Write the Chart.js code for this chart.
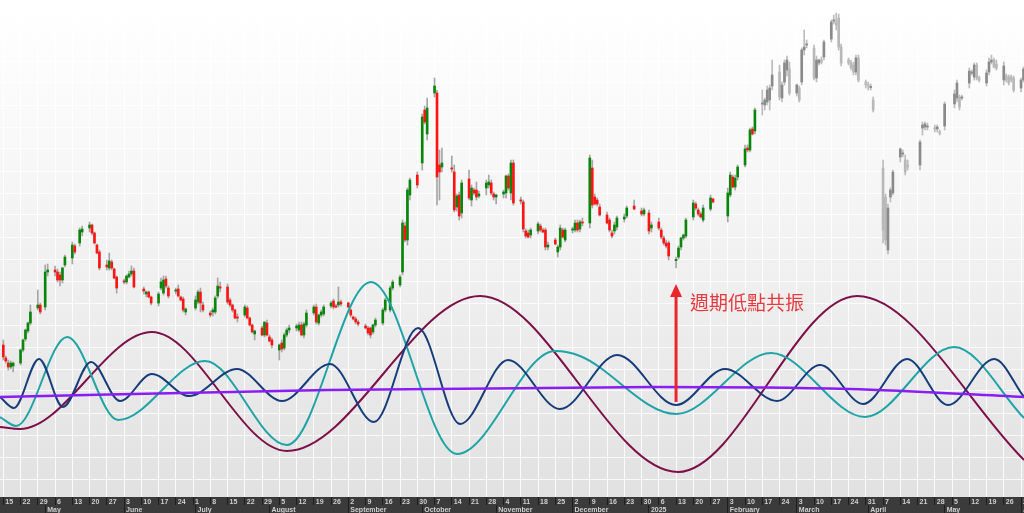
<!DOCTYPE html>
<html>
<head>
<meta charset="utf-8">
<script src="https://cdn.jsdelivr.net/npm/chart.js@4.4.1/dist/chart.umd.min.js"></script>
<style>
  html, body { margin: 0; padding: 0; background: #fff; overflow: hidden; }
</style>
</head>
<body>
<canvas id="myChart" width="1024" height="513"></canvas>
<script>
// trading calendar (HK market)
const startDate = '2024-04-15';
const endDate = '2025-06-03';
const holidays = ['2024-05-01','2024-05-15','2024-06-10','2024-07-01','2024-09-18','2024-10-01',
  '2024-10-11','2024-12-25','2024-12-26','2025-01-01','2025-01-29','2025-01-30','2025-01-31',
  '2025-04-04','2025-04-18','2025-04-21','2025-05-01','2025-05-05'];
const viewDays = [-1.34, 414.2];
const greyFrom = '2025-02-17';
const monthNames = ['January','February','March','April','May','June','July','August',
  'September','October','November','December'];

// daily candles [open, high, low, close], one row per week
const ohlc = [
  [155,160,140,143],[142,144,137,139],[137,140,130,133],[133,139,131,137],[134,138,128,137],
  [137,151,135,150],[150,161,148,160],[161,171,159,170],[169,178,167,177],[177,195,175,188],
  [192,210,190,195],[195,197,186,188],[193,235,190,228],[228,236,224,230],
  [230,234,224,228],[228,231,218,220],[225,228,214,220],[220,233,217,232],[235,245,233,243],
  [242,258,236,255],[254,256,246,248],[257,272,254,270],[268,274,264,271],
  [272,278,268,275],[275,276,265,267],[267,268,256,257],[255,256,246,247],[248,250,230,232],
  [235,240,230,233],[232,247,230,239],[238,240,230,232],[231,232,221,222],[223,224,207,212],
  [219,221,216,218],[218,225,216,224],[223,229,222,226],[226,234,224,229],[229,232,212,213],
  [211,213,206,209],[206,209,203,208],[208,209,202,203],[203,204,195,197],
  [197,208,194,206],[212,222,210,218],[207,224,205,220],[221,224,212,214],[212,214,202,204],
  [209,212,206,210],[211,215,203,204],[203,204,199,200],[201,203,188,190],[188,192,185,191],
  [192,204,190,200],[198,210,196,208],[208,212,188,197],[195,198,188,190],
  [187,189,183,185],[188,192,184,190],[188,204,186,202],[204,222,202,214],[213,218,208,212],
  [213,216,196,198],[200,202,193,195],[195,196,188,190],[190,191,181,182],[183,186,178,182],
  [185,195,183,193],[192,194,181,182],[182,183,174,175],[175,176,167,168],[166,170,160,169],
  [172,174,164,165],[165,178,163,178],[177,180,164,165],[163,165,158,159],[160,162,152,155],
  [150,156,140,155],[157,160,148,151],[152,167,150,165],[165,172,163,170],[170,175,167,172],
  [172,176,169,174],[170,178,168,175],[175,178,164,165],[165,178,162,176],[175,190,173,187],
  [187,195,185,193],[193,196,176,178],[177,186,175,185],[185,190,183,188],[186,195,184,193],
  [194,199,192,197],[199,201,191,193],[194,196,192,193],[195,213,193,198],[198,200,194,196],
  [197,198,192,193],[190,191,183,185],[183,184,180,181],[181,183,176,178],[178,180,174,176],
  [174,176,171,172],[172,174,165,167],[172,173,162,165],[168,176,166,175],[175,182,173,180],
  [177,192,175,190],[190,202,188,200],[190,214,188,212],[212,220,210,218],
  [215,225,213,223],[228,280,225,277],[274,278,258,260],[260,312,255,310],[305,322,300,320],
  [325,328,312,315],[337,386,330,383],[390,394,376,378],[366,402,360,392],
  [407,422,403,414],[407,410,295,323],[335,350,300,328],[333,352,328,337],
  [332,344,328,331],[328,335,288,290],[293,306,289,304],[305,308,280,284],[287,320,282,317],
  [321,330,300,302],[300,315,294,312],[310,312,305,307],[310,318,300,303],[304,309,302,306],
  [312,320,305,317],[315,325,312,318],[317,320,305,307],[306,308,300,303],[303,306,296,305],
  [306,310,302,308],[307,325,302,324],[324,326,310,312],[307,340,300,337],[337,340,295,297],
  [300,303,296,299],[298,300,268,271],[269,271,262,264],[267,270,262,263],[265,272,262,270],
  [269,278,266,276],[274,276,268,270],[270,272,267,268],[270,272,250,253],[253,258,250,255],
  [260,262,255,256],[248,255,243,253],[253,275,250,272],[270,272,262,263],[260,272,258,270],
  [270,273,267,271],[270,280,268,277],[277,280,268,270],[271,280,268,278],[278,282,274,277],
  [277,345,272,342],[332,340,292,295],[303,306,295,296],[300,302,294,296],[293,296,284,285],
  [285,288,276,277],[280,282,268,270],[267,270,262,264],[269,278,266,275],[273,284,270,282],
  [281,286,278,283],[284,294,282,292],[294,300,290,291],
  [289,292,284,286],[286,292,284,290],[287,290,266,269],[272,278,268,275],
  [278,282,270,272],[270,272,261,263],[262,264,255,257],[257,260,252,254],[257,259,240,244],
  [240,243,232,240],[243,254,241,252],[253,263,250,262],[262,266,260,265],[264,282,262,280],
  [283,300,280,297],[296,298,290,292],[290,292,284,286],[286,288,282,283],[280,295,278,292],
  [291,305,289,302],[301,302,297,298],
  [284,312,278,307],[305,328,303,325],[323,325,312,313],[313,325,310,322],[323,335,320,333],
  [335,355,333,351],[352,355,348,350],[350,372,348,370],[371,373,365,366],[369,392,366,390],
  [396,410,385,397],[395,402,390,400],[398,414,395,410],[400,415,390,412],[414,440,410,425],
  [428,435,400,403],[402,418,398,415],[418,440,415,437],[430,444,424,440],[431,438,405,407],
  [407,416,404,415],[412,414,398,400],[418,452,415,450],[450,470,445,453],[455,460,452,456],
  [452,455,420,422],[422,444,418,440],[437,441,435,440],[440,443,436,438],[443,460,440,458],
  [461,480,458,478],[479,485,476,480],[478,487,470,475],[482,486,450,453],[453,456,434,437],
  [440,442,435,437],[437,440,430,432],[435,438,425,428],[428,445,425,442],[442,445,418,420],
  [418,420,412,415],[415,418,410,414],[413,416,410,413],[400,403,388,390],
  [332,340,257,270],[303,306,255,260],[250,296,246,292],[303,312,298,310],[307,330,305,328],
  [343,352,338,351],[346,350,343,347],[340,345,325,328],[335,340,330,333],
  [335,360,330,358],[372,378,365,375],[373,378,370,376],[373,377,370,374],
  [372,375,368,371],[371,375,368,373],[368,370,365,367],[374,398,370,396],
  [396,410,392,406],[402,420,398,417],[403,405,390,393],[402,405,400,403],
  [417,432,412,429],[427,430,425,428],[423,437,420,435],[435,437,420,422],[422,424,418,420],
  [417,430,414,427],[428,442,425,438],[438,445,436,440],[440,442,432,433],[436,440,430,432],
  [420,438,415,434],[424,426,418,420],[423,425,415,417],[423,425,418,420],[422,424,408,410],
  [412,422,408,420],[420,433,418,431]
];

// cycle curves: turning points (days from start, level)
const longCycleDay = [-1.34, 6.8, 60.3, 115.1, 193.5, 273.8, 346.5, 414.2];
const longCycleLevel = [73, 71, 168, 49, 204, 28, 204, 40];
const midCycleDay = [-1.34, 5.2, 25.9, 46.6, 81.9, 115.1, 149.2, 184.1, 223.9, 234, 273, 311.6, 349.7, 385.8, 414.2];
const midCycleLevel = [83, 74, 163, 80, 139, 55, 218, 46, 149, 144, 86, 147, 83, 153, 82];
const shortCycleDay = [-1.34, 4.3, 14.5, 24.2, 35.6, 47.4, 60.3, 75.4, 94.8, 113.1, 132.6, 150.4, 168.3,
  185.4, 204.8, 225.9, 249.1, 273, 292.9, 314, 331.5, 348.9, 366.8, 383.4, 402.1, 414.2];
const shortCycleLevel = [103, 92, 141, 93, 138, 99, 126, 104, 131, 99, 136, 78, 172,
  76, 140, 91, 145, 95, 131, 99, 135, 96, 141, 95, 141, 103];
const trendDay = [-1.34, 131.4, 263.7, 343.2, 414.2];
const trendLevel = [103, 110, 113, 111, 103];

// annotation
const noteDate = '2025-01-13';
const noteFrom = 98, noteTo = 216, noteTextLevel = 197;
const noteText = '週期低點共振';

const DAY = 86400000;
const t0 = Date.parse(startDate);
const dayOf = s => (Date.parse(s) - t0) / DAY;

const tradingDays = [];
for (let t = t0; t <= Date.parse(endDate); t += DAY) {
  const d = new Date(t);
  const iso = d.toISOString().slice(0, 10);
  const wd = d.getUTCDay();
  if (wd === 0 || wd === 6 || holidays.includes(iso)) continue;
  tradingDays.push(iso);
}

// weekly ticks (Mondays) and month ticks (first trading day)
const weekDays = [], weekLabels = [];
for (let d = 0; d <= viewDays[1]; d += 7) {
  weekDays.push(d);
  weekLabels.push(String(new Date(t0 + d * DAY).getUTCDate()));
}
const monthDays = [], monthLabels = [];
let curMonth = tradingDays[0].slice(0, 7);
tradingDays.forEach(s => {
  if (s.slice(0, 7) === curMonth) return;
  curMonth = s.slice(0, 7);
  const mi = +s.slice(5, 7) - 1;
  monthDays.push(dayOf(s));
  monthLabels.push(mi === 0 ? s.slice(0, 4) : monthNames[mi]);
});

const greyStart = dayOf(greyFrom);
const wickData = [], bodyData = [], bodyColors = [], wickColors = [];
ohlc.forEach(([o, h, l, c], i) => {
  const x = dayOf(tradingDays[i]);
  let lo = Math.min(o, c), hi = Math.max(o, c);
  if (hi - lo < 1.2) { const m = (hi + lo) / 2; lo = m - 0.6; hi = m + 0.6; }
  wickData.push({x: x, y: [l, h]});
  bodyData.push({x: x, y: [lo, hi]});
  const grey = x >= greyStart;
  bodyColors.push(grey ? (c >= o ? '#8a8a8a' : '#b8b8b8') : (c >= o ? '#08860a' : '#ff1414'));
  wickColors.push(grey ? '#bcbcbc' : '#a6a6a6');
});

const curve = (days, levels) => days.map((d, i) => ({x: d, y: levels[i]}));
const lineStyle = (color, width) => ({
  type: 'line', borderColor: color, borderWidth: width, pointRadius: 0,
  cubicInterpolationMode: 'monotone', order: 0
});

const bgPlugin = {
  id: 'bg',
  beforeDraw(chart) {
    const {ctx, chartArea: a} = chart;
    const g = ctx.createLinearGradient(0, a.top, 0, a.bottom);
    g.addColorStop(0, '#ffffff');
    g.addColorStop(0.3, '#f8f8f8');
    g.addColorStop(1, '#e1e1e1');
    ctx.save();
    ctx.fillStyle = g;
    ctx.fillRect(a.left, a.top, a.right - a.left, a.bottom - a.top);
    ctx.restore();
  }
};

const notePlugin = {
  id: 'note',
  afterDatasetsDraw(chart) {
    const {ctx, scales: {x, y}} = chart;
    const px = x.getPixelForValue(dayOf(noteDate));
    const yb = y.getPixelForValue(noteFrom);
    const yt = y.getPixelForValue(noteTo);
    ctx.save();
    ctx.strokeStyle = '#e8262c';
    ctx.fillStyle = '#e8262c';
    ctx.lineWidth = 3;
    ctx.beginPath();
    ctx.moveTo(px, yb);
    ctx.lineTo(px, yt + 10);
    ctx.stroke();
    ctx.beginPath();
    ctx.moveTo(px, yt);
    ctx.lineTo(px - 6, yt + 13);
    ctx.lineTo(px + 6, yt + 13);
    ctx.closePath();
    ctx.fill();
    ctx.fillStyle = '#e63a3e';
    ctx.font = '19px "Noto Sans CJK TC"';
    ctx.textBaseline = 'middle';
    ctx.fillText(noteText, px + 14, y.getPixelForValue(noteTextLevel));
    ctx.restore();
  }
};

const axisFont = {family: 'Liberation Sans', size: 7, weight: 'bold'};

const ctx = document.getElementById('myChart').getContext('2d');
const myChart = new Chart(ctx, {
  type: 'bar',
  data: {
    datasets: [
      Object.assign({label: 'trend', data: curve(trendDay, trendLevel)}, lineStyle('#8a1ef2', 2.5)),
      Object.assign({label: 'short', data: curve(shortCycleDay, shortCycleLevel)}, lineStyle('#173c7a', 2)),
      Object.assign({label: 'mid', data: curve(midCycleDay, midCycleLevel)}, lineStyle('#1fa3a6', 2)),
      Object.assign({label: 'long', data: curve(longCycleDay, longCycleLevel)}, lineStyle('#7c1048', 2)),
      {label: 'body', data: bodyData, backgroundColor: bodyColors, barThickness: 2, grouped: false, order: 1},
      {label: 'wick', data: wickData, backgroundColor: wickColors, barThickness: 1, grouped: false, order: 2}
    ]
  },
  options: {
    responsive: false,
    animation: false,
    devicePixelRatio: 1,
    layout: {padding: 0},
    plugins: {legend: {display: false}, tooltip: {enabled: false}},
    scales: {
      x: {
        type: 'linear', min: viewDays[0], max: viewDays[1], position: 'bottom', weight: 0,
        offset: false, backgroundColor: '#3b3b3b',
        border: {display: false},
        grid: {offset: false, color: 'rgba(255,255,255,0.85)', tickColor: '#1e1e1e', tickLength: 8},
        ticks: {autoSkip: false, maxRotation: 0, align: 'start', padding: -7, labelOffset: 2,
          color: '#d0d0d0', font: axisFont, callback: (v, i) => weekLabels[i]},
        afterBuildTicks: s => { s.ticks = weekDays.map(v => ({value: v})); },
        afterFit: s => { s.height = 8; s.paddingLeft = 0; s.paddingRight = 0; }
      },
      xm: {
        type: 'linear', min: viewDays[0], max: viewDays[1], position: 'bottom', weight: 1,
        offset: false, backgroundColor: '#3b3b3b',
        border: {display: false},
        grid: {offset: false, drawOnChartArea: false, tickColor: '#1e1e1e', tickLength: 8},
        ticks: {autoSkip: false, maxRotation: 0, align: 'start', padding: -7.5, labelOffset: 2,
          color: '#d0d0d0', font: axisFont, callback: (v, i) => monthLabels[i]},
        afterBuildTicks: s => { s.ticks = monthDays.map(v => ({value: v})); },
        afterFit: s => { s.height = 8; s.paddingLeft = 0; s.paddingRight = 0; }
      },
      y: {
        min: 3, max: 500,
        border: {display: false},
        grid: {color: 'rgba(255,255,255,0.8)', drawTicks: false},
        ticks: {display: false},
        afterBuildTicks: s => {
          const t = [];
          for (let v = 21; v < 500; v += 22) t.push({value: v});
          s.ticks = t;
        },
        afterFit: s => { s.width = 0; }
      }
    }
  },
  plugins: [bgPlugin, notePlugin]
});
</script>
</body>
</html>
